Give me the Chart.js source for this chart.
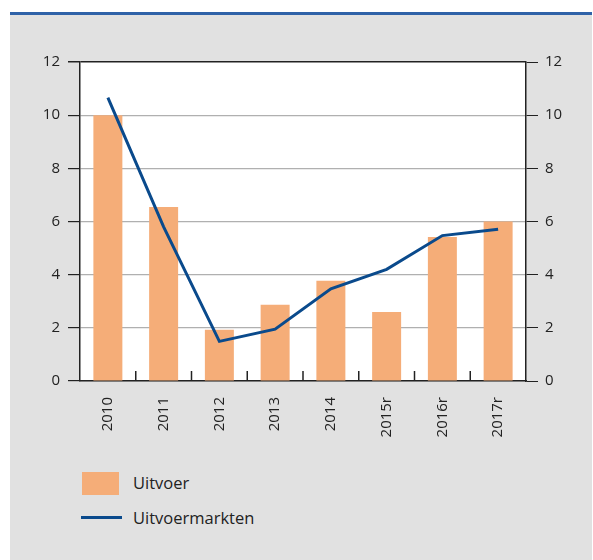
<!DOCTYPE html>
<html>
<head>
<meta charset="utf-8">
<script src="https://cdn.jsdelivr.net/npm/chart.js@4"></script>
<style>
  html, body { margin:0; padding:0; background:#fff; }
  #wrap { position:relative; width:593px; height:560px; overflow:hidden; }
  #panel { position:absolute; left:10px; top:12px; right:1px; bottom:0; background:#e1e1e1; border-top:3px solid #2f62a8; }
  #chart-box { position:absolute; left:0; top:15px; width:593px; height:430px; }
  .lg { position:absolute; left:0; font-family:'Open Sans', sans-serif; font-size:16.5px; color:#222; }
  .lg .txt { position:absolute; left:133px; white-space:nowrap; }
</style>
</head>
<body>
<div id="wrap">
  <div id="panel"></div>
  <div id="chart-box"><canvas id="chart" width="593" height="430"></canvas></div>
  <div class="lg" style="top:471px;">
    <div style="position:absolute;left:82px;top:1px;width:37px;height:23px;background:#f5ad78;"></div>
    <div class="txt" style="top:0px;">Uitvoer</div>
  </div>
  <div class="lg" style="top:506px;">
    <div style="position:absolute;left:81px;top:10px;width:41px;height:3px;background:#0a4a8c;"></div>
    <div class="txt" style="top:0px;">Uitvoermarkten</div>
  </div>
</div>
<script>
  const years     = ['2010','2011','2012','2013','2014','2015r','2016r','2017r'];
  const uitvoer   = [10.0, 6.55, 1.93, 2.87, 3.77, 2.6, 5.42, 6.0];
  const markten   = [10.66, 5.8, 1.49, 1.95, 3.47, 4.2, 5.47, 5.71];
  const yTicks    = [0, 2, 4, 6, 8, 10, 12];

  const FONT = { family:"'Open Sans', sans-serif", size:15 };
  const TXT  = '#222';

  // white plot area
  const plotBg = {
    id:'plotBg',
    beforeDraw(chart) {
      const a = chart.chartArea, c = chart.ctx;
      c.save(); c.fillStyle = '#fff';
      c.fillRect(a.left, a.top, a.right - a.left, a.bottom - a.top);
      c.restore();
    }
  };

  // small upward ticks on the x axis between categories
  const catTicks = {
    id:'catTicks',
    afterDatasetsDraw(chart) {
      const x = chart.scales.x, y = chart.scales.y, c = chart.ctx;
      const base = y.getPixelForValue(0);
      c.save();
      c.strokeStyle = '#222'; c.lineWidth = 1.5;
      for (let i = 0; i < years.length - 1; i++) {
        const px = (x.getPixelForValue(i) + x.getPixelForValue(i + 1)) / 2;
        c.beginPath(); c.moveTo(px, base); c.lineTo(px, base - 10); c.stroke();
      }
      c.restore();
    }
  };

  new Chart(document.getElementById('chart'), {
    data: {
      labels: years,
      datasets: [
        { type:'line', label:'Uitvoermarkten', data:markten, borderColor:'#0a4a8c', borderWidth:3,
          pointRadius:0, tension:0, yAxisID:'y', order:0 },
        { type:'bar', label:'Uitvoer', data:uitvoer, backgroundColor:'#f5ad78',
          categoryPercentage:1, barPercentage:0.52, yAxisID:'y', order:1 },
      ]
    },
    options: {
      responsive:false,
      animation:false,
      layout:{ padding:{ top:47, left:0, right:0, bottom:0 } },
      plugins:{ legend:{ display:false }, tooltip:{ enabled:false } },
      scales: {
        x: {
          offset:true,
          grid:{ display:false, drawTicks:false },
          border:{ display:true, color:'#222', width:1.5 },
          ticks:{ font:FONT, color:TXT, maxRotation:90, minRotation:90, padding:16 },
          afterFit(s){ s.height = 64; }
        },
        y: {
          position:'left', min:0, max:12,
          afterBuildTicks(s){ s.ticks = yTicks.map(v => ({ value:v })); },
          grid:{ color: ctx => ctx.tick && ctx.tick.value === 12 ? '#222' : '#b0b0b0',
                 lineWidth: ctx => ctx.tick && ctx.tick.value === 12 ? 1.5 : 1.2,
                 tickColor:'#222', tickLength:12 },
          border:{ display:true, color:'#222', width:1.5 },
          ticks:{ font:FONT, color:TXT, padding:8 },
          afterFit(s){ s.width = 80; }
        },
        y2: {
          position:'right', min:0, max:12,
          afterBuildTicks(s){ s.ticks = yTicks.map(v => ({ value:v })); },
          grid:{ drawOnChartArea:false, tickColor:'#222', tickLength:12 },
          border:{ display:true, color:'#222', width:1.5 },
          ticks:{ font:FONT, color:TXT, padding:7 },
          afterFit(s){ s.width = 67; }
        }
      }
    },
    plugins:[plotBg, catTicks]
  });
</script>
</body>
</html>
